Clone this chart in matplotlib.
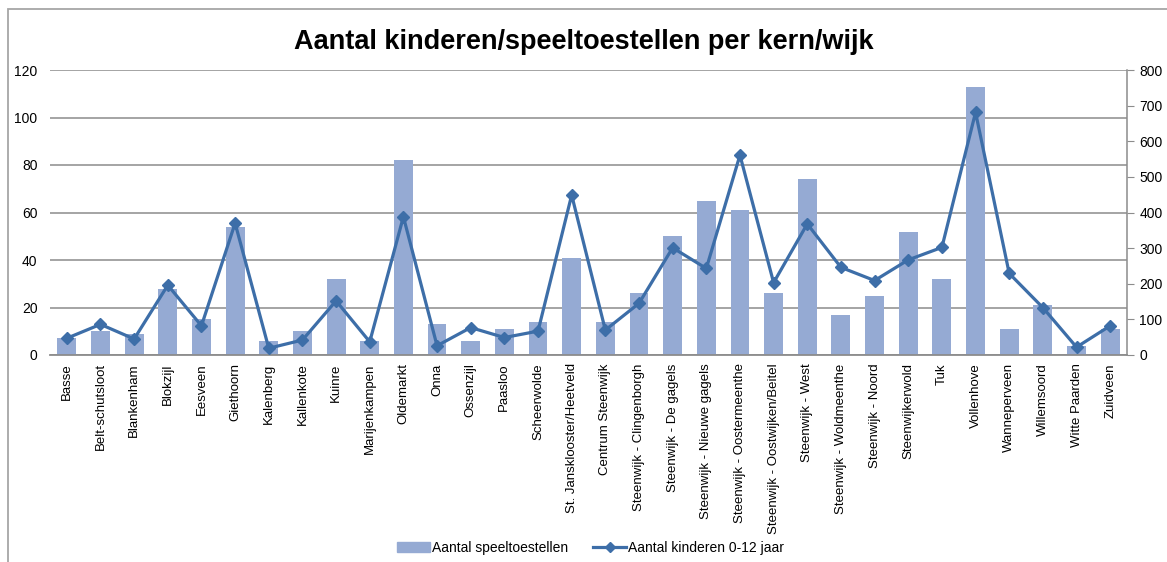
import matplotlib
matplotlib.use("Agg")
import matplotlib.pyplot as plt
from matplotlib.patches import Rectangle
from matplotlib.lines import Line2D
import numpy as np

plt.rcParams['font.family'] = ['Liberation Sans', 'DejaVu Sans']

categories = [
    "Basse", "Belt-schutsloot", "Blankenham", "Blokzijl", "Eesveen", "Giethoorn",
    "Kalenberg", "Kallenkote", "Kuinre", "Marijenkampen", "Oldemarkt", "Onna",
    "Ossenzijl", "Paasloo", "Scheerwolde", "St. Jansklooster/Heetveld",
    "Centrum Steenwijk", "Steenwijk - Clingenborgh", "Steenwijk - De gagels",
    "Steenwijk - Nieuwe gagels", "Steenwijk - Oostermeenthe",
    "Steenwijk - Oostwijken/Beitel", "Steenwijk - West", "Steenwijk - Woldmeenthe",
    "Steenwijk - Noord", "Steenwijkerwold", "Tuk", "Vollenhove", "Wanneperveen",
    "Willemsoord", "Witte Paarden", "Zuidveen",
]
speeltoestellen = [7, 10, 9, 28, 15, 54, 6, 10, 32, 6, 82, 13, 6, 11, 14, 41,
                   14, 26, 50, 65, 61, 26, 74, 17, 25, 52, 32, 113, 11, 21, 4, 11]
kinderen = [47, 86, 45, 196, 82, 370, 19, 42, 152, 37, 388, 26, 77, 49, 67, 449,
            70, 145, 301, 243, 561, 203, 368, 246, 209, 267, 302, 681, 229, 133, 22, 82]

left_ticks = [0, 20, 40, 60, 80, 100, 120]
right_ticks = [0, 100, 200, 300, 400, 500, 600, 700, 800]

bar_color = "#95AAD3"
line_color = "#3D6EA8"
grid_color = "#8C8C8C"

W, H = 1167, 562
fig = plt.figure(figsize=(W / 100, H / 100), dpi=100)
x0, x1 = 50, 1127
y0, y1 = 70, 355
ax = fig.add_axes([x0 / W, 1 - y1 / H, (x1 - x0) / W, (y1 - y0) / H])

# outer chart frame
fig.patches.append(Rectangle((8 / W, -0.1), 1.2, 1 - 9 / H + 0.1, transform=fig.transFigure,
                             fill=False, edgecolor="#A6A6A6", linewidth=1.3))

x = np.arange(len(categories))
ax.bar(x, speeltoestellen, width=0.56, color=bar_color, zorder=2)
ax.set_xlim(-0.5, len(categories) - 0.5)
ax.set_ylim(0, 120)
ax.set_yticks(left_ticks)
ax.yaxis.grid(True, color=grid_color, linewidth=1.1, zorder=0)
ax.set_axisbelow(True)
for s in ["top", "right", "left"]:
    ax.spines[s].set_visible(False)
ax.spines["bottom"].set_color(grid_color)
ax.spines["bottom"].set_linewidth(1.3)
ax.tick_params(axis="y", length=0, labelsize=10, pad=9)
ax.tick_params(axis="x", length=0, labelsize=9.5, pad=6)
ax.set_xticks(x)
ax.set_xticklabels(categories, rotation=90)

ax2 = ax.twinx()
ax2.plot(x, kinderen, color=line_color, linewidth=2.3, marker="D", markersize=6, zorder=3)
ax2.set_ylim(0, 800)
ax2.set_yticks(right_ticks)
for s in ["top", "left", "bottom"]:
    ax2.spines[s].set_visible(False)
ax2.spines["right"].set_color(grid_color)
ax2.spines["right"].set_linewidth(1.1)
ax2.tick_params(axis="y", direction="out", length=5, color=grid_color, labelsize=10, pad=4)

fig.text(0.5, 1 - 42 / H, "Aantal kinderen/speeltoestellen per kern/wijk",
         ha="center", va="center", fontsize=19.5, fontweight="bold")

handles = [Rectangle((0, 0), 1, 1, color=bar_color),
           Line2D([0], [0], color=line_color, linewidth=2.3, marker="D", markersize=5)]
fig.legend(handles, ["Aantal speeltoestellen", "Aantal kinderen 0-12 jaar"],
           loc="center", bbox_to_anchor=(0.506, 1 - 548 / H), ncol=2, frameon=False,
           fontsize=10, handlelength=2.4, handletextpad=0.15, columnspacing=1.8)

fig.savefig("out.png", dpi=100)
